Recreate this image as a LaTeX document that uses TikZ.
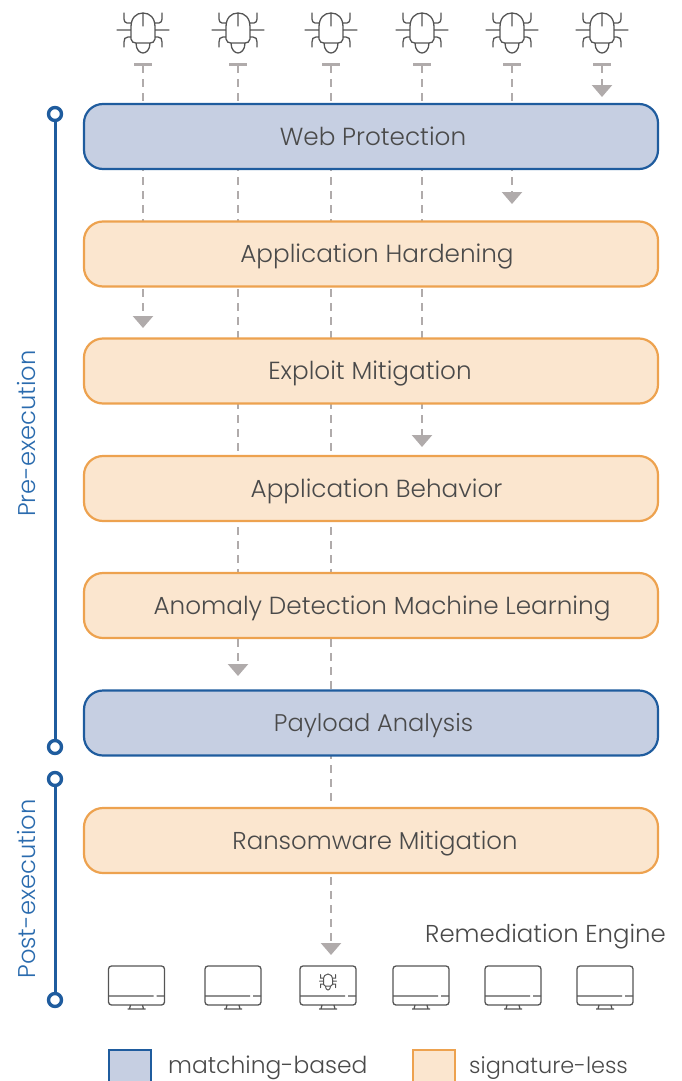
\documentclass[tikz,border=0pt]{standalone}
\usepackage{fontspec}
\setmainfont{Poppins}[UprightFont=* Light]
\usetikzlibrary{arrows.meta,backgrounds}
\definecolor{bluefill}{HTML}{C6CFE2}
\definecolor{blueline}{HTML}{1F5C9E}
\definecolor{orfill}{HTML}{FBE6CF}
\definecolor{orline}{HTML}{EDA24F}
\definecolor{txt}{HTML}{4A4A4A}
\definecolor{conn}{HTML}{B0ABAB}
\definecolor{icon}{HTML}{555555}
\definecolor{axis}{HTML}{2A6BAE}
\tikzset{
  layer/.style={rounded corners=19pt,line width=2.2pt,minimum width=574pt,minimum height=65pt,inner sep=0pt},
  matching/.style={layer,draw=blueline,fill=bluefill},
  sigless/.style={layer,draw=orline,fill=orfill},
  lbl/.style={text=txt,font=\fontsize{24.7}{27}\selectfont,inner sep=0pt,anchor=base},
  flow/.style={draw=conn,line width=2.4pt,dash pattern=on 8pt off 6pt,{Bar[width=18pt,line width=2.8pt,sep=0pt]}-{Triangle[width=20pt,length=12pt,sep=0pt]}},
  axisline/.style={draw=blueline,line width=3pt},
  dot/.style={circle,draw=blueline,fill=white,line width=3.4pt,minimum size=13pt,inner sep=0pt},
  side/.style={text=axis,font=\fontsize{24.2}{27}\selectfont,rotate=90,inner sep=0pt},
  key/.style={draw=blueline,fill=bluefill,line width=2.4pt,minimum width=42pt,minimum height=42pt,inner sep=0pt},
  bug/.pic={
    \draw[icon,line width=1.3pt,line cap=round]
      (-12,-6) .. controls (-12,-15) and (-7,-20) .. (0,-20) .. controls (7,-20) and (12,-15) .. (12,-6)
      -- (12,6) .. controls (12,9) and (9,10) .. (7,10) -- (-7,10) .. controls (-9,10) and (-12,9) .. (-12,6) -- cycle
      (0,-20) -- (0,-7)
      (-7,10) .. controls (-7,17) and (-3,20) .. (0,20) .. controls (3,20) and (7,17) .. (7,10)
      (-26,-3) -- (-12,-3) (12,-3) -- (26,-3)
      (-12,-10) -- (-16,-10) .. controls (-18,-10) and (-19,-12) .. (-19,-14) -- (-19,-20)
      (12,-10) -- (16,-10) .. controls (18,-10) and (19,-12) .. (19,-14) -- (19,-20)
      (-12,4) -- (-15,4) .. controls (-18,4) and (-19,6) .. (-19,9) -- (-19,14)
      (12,4) -- (15,4) .. controls (18,4) and (19,6) .. (19,9) -- (19,14);
  },
  tinybug/.pic={
    \draw[icon,line width=1pt,line cap=round]
      (-4.5,-2.5) .. controls (-4.5,-6) and (-2.5,-8) .. (0,-8) .. controls (2.5,-8) and (4.5,-6) .. (4.5,-2.5)
      -- (4.5,2.5) .. controls (4.5,3.5) and (3.5,4) .. (2.7,4) -- (-2.7,4) .. controls (-3.5,4) and (-4.5,3.5) .. (-4.5,2.5) -- cycle
      (-2.7,4) .. controls (-2.7,6.5) and (-1,8) .. (0,8) .. controls (1,8) and (2.7,6.5) .. (2.7,4)
      (-4.5,-4) -- (-7.5,-4) -- (-7.5,-7.5) (4.5,-4) -- (7.5,-4) -- (7.5,-7.5)
      (-8.5,-1) -- (-4.5,-1) (4.5,-1) -- (8.5,-1)
      (-4.5,2) -- (-7.5,2) -- (-7.5,5.5) (4.5,2) -- (7.5,2) -- (7.5,5.5);
  },
  monitor/.pic={
    \draw[icon,line width=1.3pt,rounded corners=3pt] (-28,-19.5) rectangle (28,19.5);
    \draw[icon,line width=1.3pt] (-28,10.5) -- (17,10.5) (20,10.5) -- (28,10.5)
      (-6,19.5) -- (-7,23.5) (6,19.5) -- (7,23.5) (-9,23.5) -- (9,23.5);
  }
}
\begin{document}
\begin{tikzpicture}[x=1pt,y=-1pt]
\useasboundingbox (0,0) rectangle (681,1081);
\clip (0,0) rectangle (681,1081);

% layers
\node[matching] (web) at (371,136.5) {};
\node[sigless]  (hard) at (371,254) {};
\node[sigless]  (expl) at (371,371) {};
\node[sigless]  (behav) at (371,488.5) {};
\node[sigless]  (anom) at (371,605.5) {};
\node[matching] (payl) at (371,723) {};
\node[sigless]  (rans) at (371,840.5) {};

\node[lbl] (tweb) at (373,145) {Web Protection};
\node[lbl] (thard) at (377,262.5) {Application Hardening};
\node[lbl] (texpl) at (370,379.5) {Exploit Mitigation};
\node[lbl] (tbehav) at (376.5,497) {Application Behavior};
\node[lbl] (tanom) at (382,614) {Anomaly Detection Machine Learning};
\node[lbl,font=\fontsize{24.1}{27}\selectfont] (tpayl) at (373.5,731.5) {Payload Analysis};
\node[lbl,font=\fontsize{24.4}{27}\selectfont] (trans) at (375,849) {Ransomware Mitigation};

% bugs and monitors
\foreach \i/\x in {1/143,2/238,3/331,4/422,5/512,6/602}{
  \pic at (\x,33) {bug};
  \coordinate (s\i) at (\x,63);
}
\foreach \x in {136.5,233,421,513,605}{ \pic at (\x,985.5) {monitor}; }
\pic at (328,985.5) {monitor};
\pic at (328,982) {tinybug};

\coordinate (e1) at (143,328);
\coordinate (e2) at (238,676);
\coordinate (e3) at (331,955);
\coordinate (e4) at (422,447);
\coordinate (e5) at (512,204);
\coordinate (e6) at (602,97);

\begin{scope}[on background layer]
  \foreach \i in {1,...,6}{ \draw[flow] (s\i) -- (e\i); }
\end{scope}

% stage axis
\node[dot] (pre1) at (55,114) {};
\node[dot] (pre2) at (55,747) {};
\node[dot] (post1) at (55,779) {};
\node[dot] (post2) at (55,1000) {};
\draw[axisline] (pre1) -- (pre2);
\draw[axisline] (post1) -- (post2);
\node[side] (lpre) at (27,433.5) {Pre-execution};
\node[side] (lpost) at (27,889) {Post-execution};

\node[lbl,font=\fontsize{24.4}{27}\selectfont] (rem) at (545.5,942) {Remediation Engine};

% legend
\node[key] (k1) at (130,1071) {};
\node[key,draw=orline,fill=orfill] (k2) at (434,1071) {};
\node[lbl,anchor=base west,font=\fontsize{23.4}{27}\selectfont] (t1) at (168,1073.5) {matching-based};
\node[lbl,anchor=base west,font=\fontsize{22.4}{27}\selectfont] (t2) at (469,1073.5) {signature-less};
\end{tikzpicture}
\end{document}
